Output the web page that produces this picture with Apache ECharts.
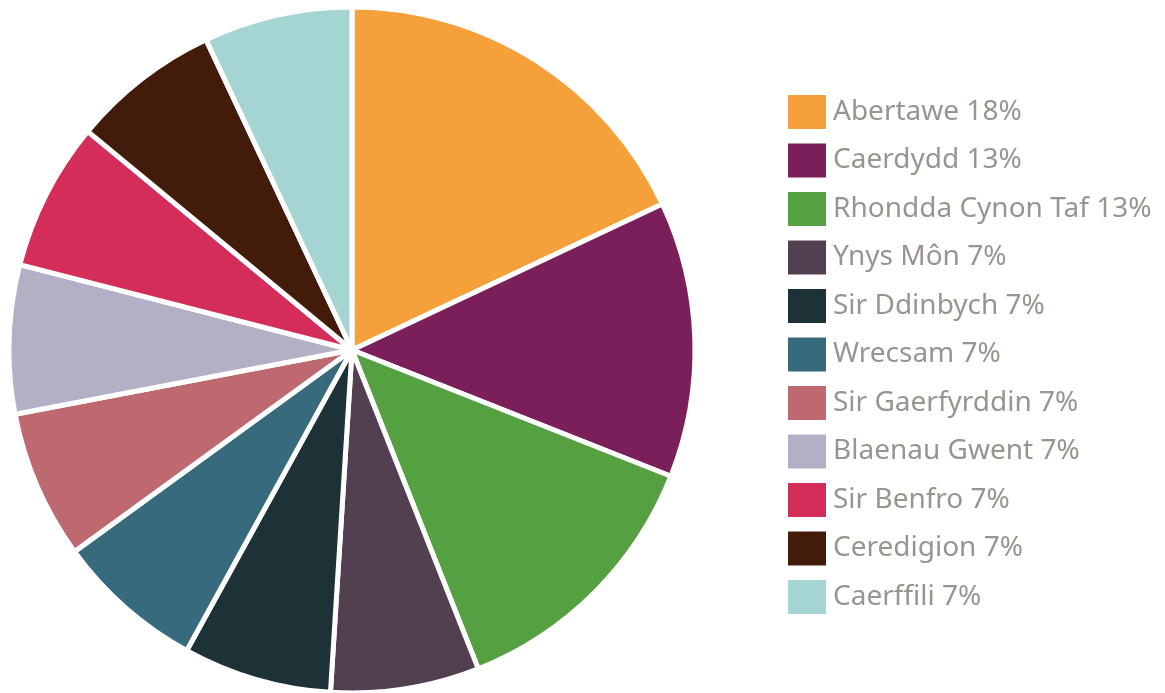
<!DOCTYPE html>
<html>
<head>
<meta charset="utf-8">
<script src="https://cdn.jsdelivr.net/npm/echarts@6/dist/echarts.min.js"></script>
<style>
html,body{margin:0;padding:0;background:#fff;}
#c{width:1165px;height:693px;}
</style>
</head>
<body>
<div id="c"></div>
<script>
const categories = ["Abertawe","Caerdydd","Rhondda Cynon Taf","Ynys Môn","Sir Ddinbych","Wrecsam","Sir Gaerfyrddin","Blaenau Gwent","Sir Benfro","Ceredigion","Caerffili"];
const values = [18,13,13,7,7,7,7,7,7,7,7];
const colors = ["#F5A03A","#7A1F59","#55A041","#523F4F","#1C3236","#376A7C","#BE6870","#B3B0C6","#D42D59","#421B0A","#A5D5D3"];

const chart = echarts.init(document.getElementById('c'), null, {renderer:'canvas'});
const data = categories.map((n,i)=>({name:n, value:values[i], itemStyle:{color:colors[i]}}));
const lookup = {};
categories.forEach((n,i)=>lookup[n]=values[i]);
chart.setOption({
  animation:false,
  backgroundColor:'#ffffff',
  legend:{
    orient:'vertical',
    left:786, top:93,
    padding:0,
    itemWidth:40, itemHeight:36, itemGap:10.5,
    icon:'rect',
    textStyle:{color:'#9a948f', fontSize:28, lineHeight:36, fontFamily:'"Noto Sans", sans-serif', padding:[0,0,0,1]},
    formatter: n => n + ' ' + lookup[n] + '%',
    data: categories
  },
  series:[{
    type:'pie',
    center:[352,350],
    radius:[0,343],
    startAngle:90,
    clockwise:true,
    label:{show:false},
    labelLine:{show:false},
    itemStyle:{borderColor:'#ffffff', borderWidth:5},
    emphasis:{disabled:true},
    data:data
  }]
});
</script>
</body>
</html>
